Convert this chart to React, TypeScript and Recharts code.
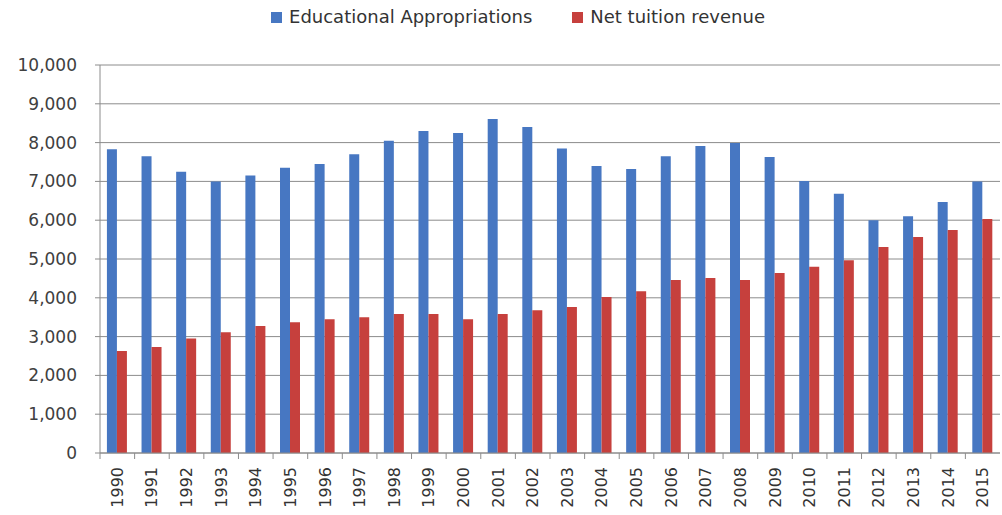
import React from 'react';
import {
    BarChart,
    Bar,
    XAxis,
    YAxis,
    CartesianGrid,
    Legend,
} from 'recharts';

const years = [
    '1990', '1991', '1992', '1993', '1994', '1995', '1996', '1997', '1998',
    '1999', '2000', '2001', '2002', '2003', '2004', '2005', '2006', '2007',
    '2008', '2009', '2010', '2011', '2012', '2013', '2014', '2015',
];

const appropriations = [
    7830, 7650, 7250, 7000, 7150, 7350, 7450, 7700, 8050,
    8300, 8250, 8610, 8400, 7850, 7400, 7320, 7650, 7910,
    7990, 7630, 7010, 6680, 6000, 6100, 6470, 7000,
];

const tuition = [
    2630, 2730, 2950, 3110, 3270, 3370, 3450, 3500, 3580,
    3580, 3450, 3580, 3680, 3760, 4020, 4170, 4460, 4510,
    4460, 4640, 4800, 4970, 5310, 5570, 5750, 6030,
];

const yTicks = [0, 1000, 2000, 3000, 4000, 5000, 6000, 7000, 8000, 9000, 10000];

const BLUE = '#4777c2';
const RED = '#c6403d';
const FONT = '"DejaVu Sans", Verdana, sans-serif';

const data = years.map((year, i) => ({
    year,
    appropriations: appropriations[i],
    tuition: tuition[i],
}));

const PLOT_WIDTH = 900;
const HALF_BAND = PLOT_WIDTH / years.length / 2;

const YearTick = (props: any) => {
    const { x, y, payload } = props;
    return (
        <g>
            <line x1={x - HALF_BAND} y1={y - 8} x2={x - HALF_BAND} y2={y - 2} stroke="#8c8c8c" />
            <text
                x={x}
                y={y + 6}
                transform={`rotate(-90, ${x}, ${y + 6})`}
                textAnchor="end"
                dominantBaseline="central"
                fill="#333"
                fontSize={16}
                fontFamily={FONT}
            >
                {payload.value}
            </text>
        </g>
    );
};

const LegendContent = () => (
    <div
        style={{
            display: 'flex',
            justifyContent: 'center',
            gap: 40,
            fontFamily: FONT,
            fontSize: 18,
            color: '#333',
            paddingLeft: 34,
            lineHeight: '22px',
        }}
    >
        {[
            { name: 'Educational Appropriations', color: BLUE },
            { name: 'Net tuition revenue', color: RED },
        ].map((item) => (
            <span key={item.name} style={{ display: 'flex', alignItems: 'center' }}>
                <span
                    style={{
                        width: 11,
                        height: 11,
                        background: item.color,
                        marginRight: 7,
                        display: 'inline-block',
                    }}
                />
                {item.name}
            </span>
        ))}
    </div>
);

const App: React.FC = () => {
    return (
        <div style={{ position: 'absolute', left: 0, top: 0, background: '#fff' }}>
            <BarChart
                width={1002}
                height={515}
                data={data}
                margin={{ top: 43, right: 2, left: 0, bottom: 0 }}
                barCategoryGap="20%"
                barGap={0}
            >
                <CartesianGrid vertical={false} stroke="#8c8c8c" />
                <XAxis
                    dataKey="year"
                    interval={0}
                    tickLine={false}
                    tickSize={0}
                    tickMargin={8}
                    stroke="#8c8c8c"
                    tick={<YearTick />}
                    height={62}
                />
                <YAxis
                    width={100}
                    domain={[0, 10000]}
                    ticks={yTicks}
                    interval={0}
                    stroke="#8c8c8c"
                    tickSize={5}
                    tickMargin={18}
                    tickFormatter={(v: number) => v.toLocaleString('en-US')}
                    tick={{ fill: '#404040', fontSize: 17, fontFamily: FONT }}
                />
                <Legend
                    verticalAlign="top"
                    content={<LegendContent />}
                    wrapperStyle={{ top: 6, left: 0, width: 1002 }}
                />
                <Bar dataKey="appropriations" name="Educational Appropriations" fill={BLUE} isAnimationActive={false} />
                <Bar dataKey="tuition" name="Net tuition revenue" fill={RED} isAnimationActive={false} />
            </BarChart>
        </div>
    );
};

export default App;
